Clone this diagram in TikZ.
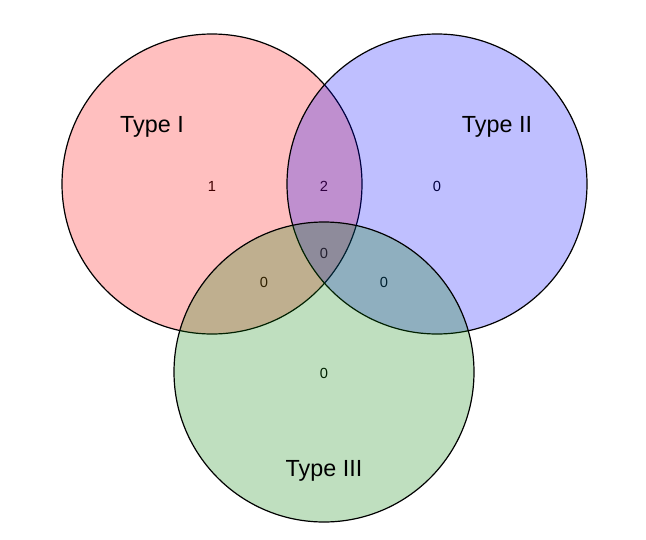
\documentclass[tikz,border=0pt]{standalone}
\usepackage{fontspec}
\setmainfont{Liberation Sans}
\usepackage{tikz}

\begin{document}
\begin{tikzpicture}[x = 0.75pt, y = -0.75pt,
    count/.style = {font = \fontsize{11}{13}\selectfont, inner sep = 0pt},
    setname/.style = {font = \fontsize{17.5}{20}\selectfont, inner sep = 0pt}]

    \useasboundingbox (0,0) rectangle (646,539);

    % Coordinates
    \coordinate (I) at (212,184);
    \coordinate (II) at (437,184);
    \coordinate (III) at (324,372);

    % Counts
    \node [count] (n1) at (212,186) {1};
    \node [count] (n2) at (437,186) {0};
    \node [count] (n3) at (324,373) {0};
    \node [count] (n12) at (324,186) {2};
    \node [count] (n13) at (264,282) {0};
    \node [count] (n23) at (384,282) {0};
    \node [count] (n123) at (324,253) {0};

    % Sets
    \draw [line width = 0.9pt, fill = red, fill opacity = 0.25] (I) circle (112.5pt);
    \draw [line width = 0.9pt, fill = blue, fill opacity = 0.25] (II) circle (112.5pt);
    \draw [line width = 0.9pt, fill = green!50!black, fill opacity = 0.25] (III) circle (112.5pt);

    % Names
    \node [setname] (tI) at (152,127) {Type I};
    \node [setname] (tII) at (497,127) {Type II};
    \node [setname] (tIII) at (324,471) {Type III};

\end{tikzpicture}
\end{document}
